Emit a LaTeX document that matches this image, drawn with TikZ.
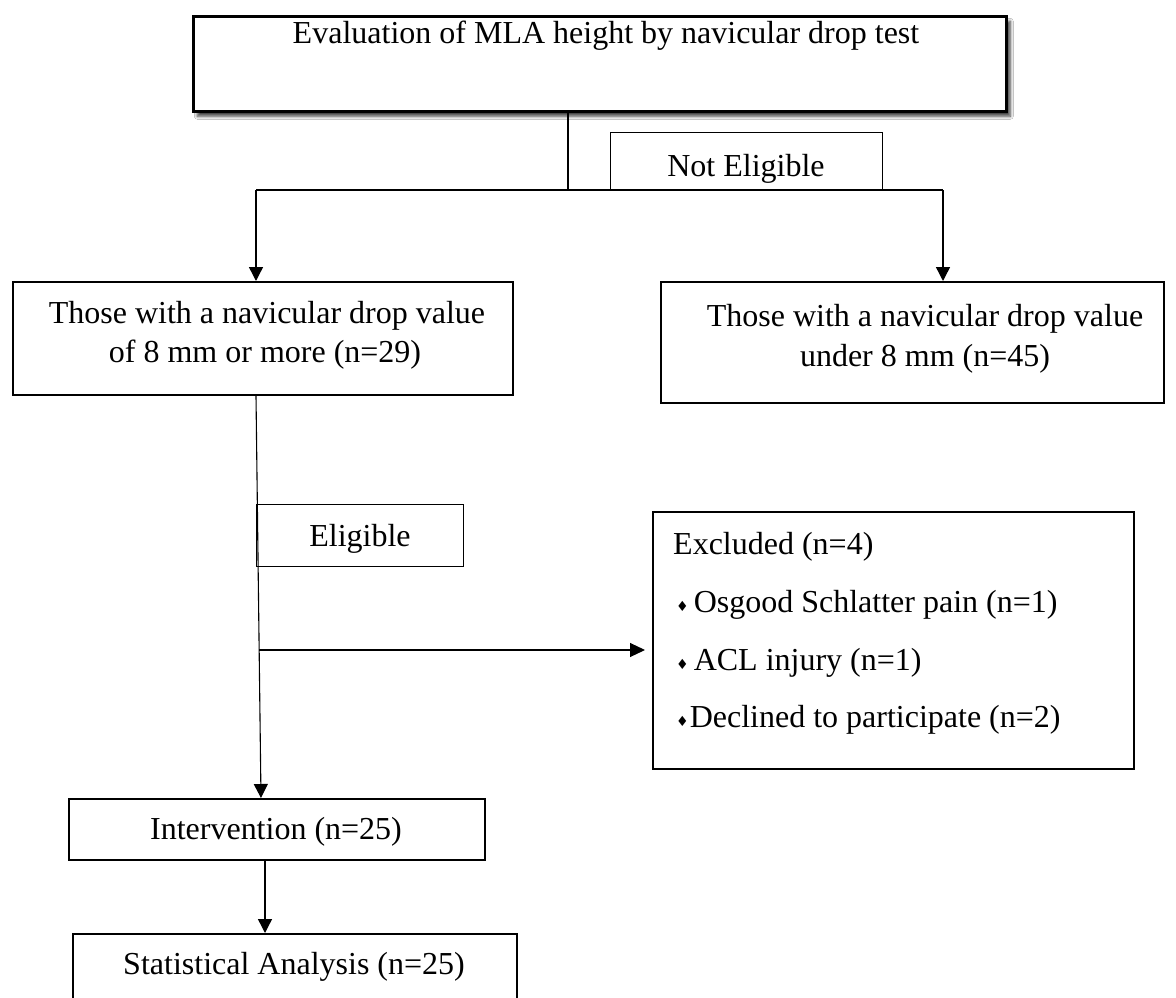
\documentclass[tikz,border=0pt]{standalone}
\usepackage{fontspec}
\setmainfont{Liberation Serif}
\newfontfamily\symfont{DejaVu Sans}
\usetikzlibrary{arrows.meta,shadows.blur}
\begin{document}
\begin{tikzpicture}[x=1pt,y=-1pt,
  font=\fontsize{32}{39}\selectfont,
  box/.style={draw=black,line width=1.8pt,fill=white,rectangle,anchor=north west,inner sep=0pt},
  thinbox/.style={box,line width=1.2pt},
  txt/.style={anchor=base,inner sep=0pt},
  ln/.style={draw=black,line width=1.4pt},
  arr/.style={ln,-{Triangle[width=14pt,length=14pt]}},
  bul/.style={anchor=base west,inner sep=0pt}]
\useasboundingbox (0,0) rectangle (1176,998);
\begin{scope}
\clip (0,0) rectangle (1176,998);
\fill[white] (0,0) rectangle (1176,998);
% boxes
\node[box,line width=2.6pt,minimum width=813pt,minimum height=95pt,
  blur shadow={shadow xshift=4pt,shadow yshift=-5pt,shadow blur steps=6,shadow blur radius=3pt,shadow opacity=75}]
  (top) at (192,15) {};
\node[thinbox,minimum width=272pt,minimum height=58pt] (ne) at (610,132) {};
\node[box,minimum width=500pt,minimum height=113pt] (left) at (12,281) {};
\node[box,minimum width=503pt,minimum height=121pt] (right) at (660,281) {};
\node[thinbox,minimum width=207pt,minimum height=62pt] (el) at (256,504) {};
\node[box,minimum width=481pt,minimum height=257pt] (excl) at (652,511) {};
\node[box,minimum width=416pt,minimum height=61pt] (interv) at (68,798) {};
\node[box,minimum width=444pt,minimum height=90pt] (stat) at (72,933) {};
% texts
\node[txt] (ttop) at (606,44) {Evaluation of MLA height by navicular drop test};
\node[txt] (tne) at (746,176) {Not Eligible};
\node[txt] (tl1) at (267,323) {Those with a navicular drop value};
\node[txt] (tl2) at (265,362) {of 8 mm or more (n=29)};
\node[txt] (tr1) at (925,326) {Those with a navicular drop value};
\node[txt] (tr2) at (925,366) {under 8 mm (n=45)};
\node[txt] (tel) at (360,546) {Eligible};
\node[bul] (tex) at (673,554) {Excluded (n=4)};
\node[bul] (tb1) at (676,612) {\raisebox{1pt}{\symfont\fontsize{14}{14}\selectfont ♦}\hspace{5pt}Osgood Schlatter pain (n=1)};
\node[bul] (tb2) at (676,670) {\raisebox{1pt}{\symfont\fontsize{14}{14}\selectfont ♦}\hspace{5pt}ACL injury (n=1)};
\node[bul] (tb3) at (676,727) {\raisebox{1pt}{\symfont\fontsize{14}{14}\selectfont ♦}\hspace{1pt}Declined to participate (n=2)};
\node[txt] (tin) at (276,839) {Intervention (n=25)};
\node[txt] (tst) at (294,974) {Statistical Analysis (n=25)};
% connector points
\coordinate (tj) at (568,190);
\coordinate (lj) at (256,190);
\coordinate (rj) at (943,190);
\coordinate (ij) at (261,0);
\coordinate (ex) at (259,650);
\coordinate (sj) at (265,0);
% connectors
\draw[ln] (top.south -| tj) -- (tj);
\draw[ln] (lj) -- (rj);
\draw[arr] (lj) -- (lj |- left.north);
\draw[arr] (rj) -- (rj |- right.north);
\draw[arr,line width=1.1pt] (lj |- left.south) -- (ij |- interv.north);
\draw[arr,line width=1.1pt,-{Triangle[width=14pt,length=15pt]},shorten >=7pt] (ex) -- (ex -| excl.west);
\draw[arr] (sj |- interv.south) -- (sj |- stat.north);
\end{scope}
\end{tikzpicture}
\end{document}
